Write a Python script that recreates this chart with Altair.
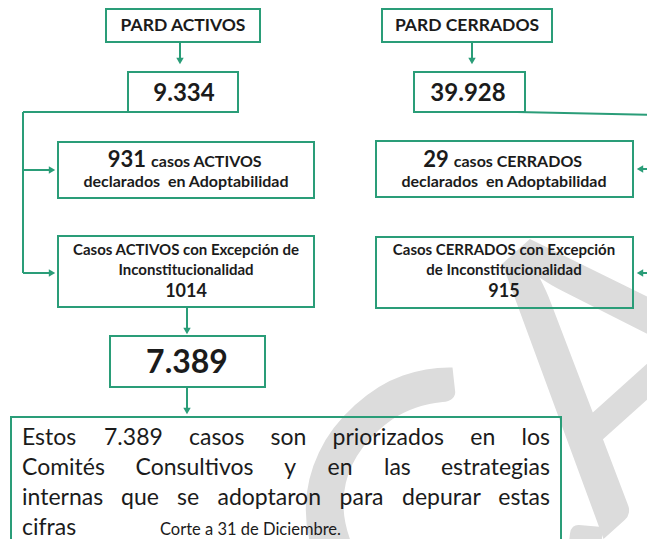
import altair as alt
import pandas as pd

GREEN = "#2a9d78"
INK = "#1b1b1b"
FONT = "Lato"

# ---------------- boxes (picture pixels) ----------------
box_id = ["pard_act", "pard_cer", "n_act", "n_cer", "adop_act", "adop_cer",
          "exc_act", "exc_cer", "total", "nota"]
box_x0 = [106, 382, 128, 414, 58, 376, 58, 376, 110, 11]
box_x1 = [260, 552, 238, 525, 314, 633, 314, 633, 265, 561]
box_y0 = [9, 9, 72, 72, 142, 141, 236, 237, 336, 417]
box_y1 = [42, 42, 112, 112, 198, 197, 307, 308, 387, 580]

# ---------------- connector segments ----------------
seg_x0 = [180, 472, 128, 23, 23, 23, 517, 660, 660, 187, 187]
seg_x1 = [180, 472, 23, 23, 50, 50, 660, 642, 642, 187, 187]
seg_y0 = [42, 42, 112, 112, 170, 273, 112, 169, 273, 307, 387]
seg_y1 = [58, 58, 112, 273, 170, 273, 115, 169, 273, 328, 408]

# ---------------- arrow heads ----------------
head_x = [180, 472, 52, 52, 640, 640, 187, 187]
head_y = [61, 61, 170, 273, 169, 273, 331, 411]
head_shape = ["triangle-down", "triangle-down", "triangle-right", "triangle-right",
              "triangle-left", "triangle-left", "triangle-down", "triangle-down"]

# ---------------- texts ----------------
titles = ["PARD ACTIVOS", "PARD CERRADOS"]
totals = ["9.334", "39.928"]
adop_num = ["931", "29"]
adop_rest = ["casos ACTIVOS", "casos CERRADOS"]
adop_line2 = "declarados\u00a0 en Adoptabilidad"
exc_line1 = ["Casos ACTIVOS con Excepción de", "Casos CERRADOS con Excepción"]
exc_line2 = ["Inconstitucionalidad", "de Inconstitucionalidad"]
exc_num = ["1014", "915"]
final_total = "7.389"
note_lines = [
    "Estos 7.389 casos son priorizados en los",
    "Comités Consultivos y en las estrategias",
    "internas que se adoptaron para depurar estas",
]
note_last = "cifras"
cut_note = "Corte a 31 de Diciembre."
wm_letters = ["C", "A"]
wm_x = [452, 622]
wm_y = [552, 369]
wm_size = [410, 380]

# ---------------- layout helpers ----------------
CW = {"a": .50, "b": .56, "c": .47, "d": .56, "e": .52, "f": .32, "g": .50, "h": .56,
      "i": .24, "j": .24, "k": .50, "l": .24, "m": .84, "n": .56, "o": .56, "p": .56,
      "q": .56, "r": .36, "s": .42, "t": .35, "u": .56, "v": .50, "w": .76, "x": .49,
      "y": .50, "z": .45, " ": .22, ".": .22, "é": .52, "ó": .56}


def est_w(s, fs, bold=False):
    w = 0.0
    for ch in s:
        if ch in CW:
            w += CW[ch]
        elif ch.isdigit():
            w += .58
        elif ch in "IJ":
            w += .30
        elif ch.isupper():
            w += .66
        else:
            w += .5
    return w * fs * (1.05 if bold else 1.0)


centers_top = [183, 467]
centers_mid = [186, 504]

rows = []  # x, y, t, fs, weight, align


def add(x, y, t, fs, weight="bold", align="center"):
    rows.append(dict(x=x, y=y, t=t, fs=fs, weight=weight, align=align))


for i in range(2):
    add(centers_top[i], 31, titles[i], 17.5)
    add(centers_top[i] + 1, 101, totals[i], 24)
    cx = centers_mid[i]
    wn = est_w(adop_num[i], 22, True)
    wr = est_w(adop_rest[i], 16, True)
    gap = 5
    start = cx - (wn + gap + wr) / 2
    add(start + wn, 167, adop_num[i], 22, align="right")
    add(start + wn + gap, 167, adop_rest[i], 16, align="left")
    add(cx, 187, adop_line2, 16)
    add(cx, 255, exc_line1[i], 15)
    add(cx, 275, exc_line2[i], 15)
    add(cx, 297, exc_num[i], 18)

add(187, 373, final_total, 32)

# justified paragraph
L, R = 22, 550
NFS = 23
base_y = [445, 475, 505]
for line, yy in zip(note_lines, base_y):
    words = line.split(" ")
    ws = [est_w(w, NFS) for w in words]
    gap = (R - L - sum(ws)) / (len(words) - 1)
    pos = L
    for k, (w, wd) in enumerate(zip(words, ws)):
        if k == 0:
            add(L, yy, w, NFS, "normal", "left")
        elif k == len(words) - 1:
            add(R, yy, w, NFS, "normal", "right")
        else:
            add(pos + wd / 2, yy, w, NFS, "normal", "center")
        pos += wd + gap
add(L, 535, note_last, NFS, "normal", "left")
add(160, 535, cut_note, 16.5, "normal", "left")

texts = pd.DataFrame(rows)

# ---------------- chart ----------------
xs = alt.Scale(domain=[8, 647], nice=False, zero=False)
ys = alt.Scale(domain=[8, 539], reverse=True, nice=False, zero=False)

wm = alt.Chart(pd.DataFrame({"x": wm_x, "y": wm_y, "t": wm_letters, "fs": wm_size})).mark_text(
    font=FONT, color="#dcdcdc", angle=318, align="center",
    baseline="middle", clip=True
).encode(x=alt.X("x:Q", scale=xs, axis=None), y=alt.Y("y:Q", scale=ys, axis=None), text="t:N",
         size=alt.Size("fs:Q", scale=None, legend=None))

boxes = alt.Chart(pd.DataFrame({"id": box_id, "x0": box_x0, "x1": box_x1,
                                "y0": box_y0, "y1": box_y1})).mark_rect(
    fillOpacity=0, stroke=GREEN, strokeWidth=2, clip=True
).encode(x=alt.X("x0:Q", scale=xs, axis=None), x2="x1:Q",
         y=alt.Y("y0:Q", scale=ys, axis=None), y2="y1:Q")

segs = alt.Chart(pd.DataFrame({"x0": seg_x0, "x1": seg_x1, "y0": seg_y0, "y1": seg_y1})).mark_rule(
    color=GREEN, strokeWidth=2, clip=True
).encode(x=alt.X("x0:Q", scale=xs, axis=None), x2="x1:Q",
         y=alt.Y("y0:Q", scale=ys, axis=None), y2="y1:Q")

heads = alt.Chart(pd.DataFrame({"x": head_x, "y": head_y, "s": head_shape})).mark_point(
    filled=True, color=GREEN, opacity=1, size=55, clip=True
).encode(x=alt.X("x:Q", scale=xs, axis=None), y=alt.Y("y:Q", scale=ys, axis=None),
         shape=alt.Shape("s:N", scale=None, legend=None))

layers = [wm, boxes, segs, heads]
for (wt, al), sub in texts.groupby(["weight", "align"]):
    layers.append(
        alt.Chart(sub).mark_text(font=FONT, fontWeight=wt, align=al, baseline="alphabetic",
                                 color=INK).encode(
            x=alt.X("x:Q", scale=xs, axis=None),
            y=alt.Y("y:Q", scale=ys, axis=None),
            text="t:N",
            size=alt.Size("fs:Q", scale=None, legend=None),
        )
    )

chart = alt.layer(*layers).properties(width=639, height=531, padding=0, background="white"
                                      ).configure_view(strokeWidth=0)

chart.save("out.html", embed_options={"renderer": "svg", "actions": False})
